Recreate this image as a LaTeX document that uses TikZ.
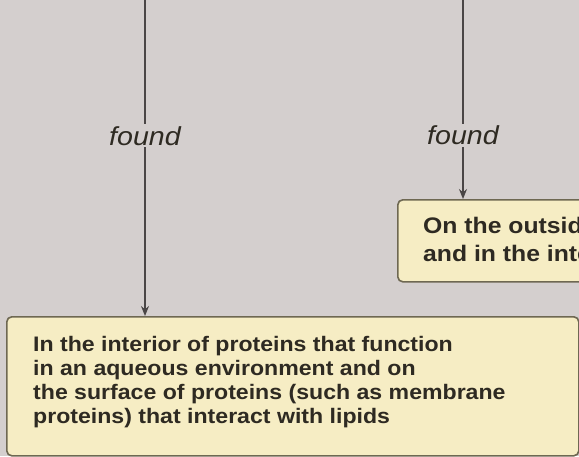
\documentclass[tikz,border=0pt]{standalone}
\usepackage{fontspec}
\setmainfont{Liberation Sans}
\newfontfamily\widesans[FakeStretch=1.1]{Liberation Sans}
\usetikzlibrary{arrows.meta,positioning}
\definecolor{paper}{HTML}{D4CFCE}
\definecolor{boxfill}{HTML}{F6EDC4}
\definecolor{boxline}{HTML}{6E6852}
\definecolor{inkgray}{HTML}{4A4646}
\definecolor{textink}{HTML}{2E2A22}

\begin{document}
\begin{tikzpicture}[
    x=1pt, y=-1pt,
    >={Stealth[length=10pt, width=8pt]},
    place/.style={draw=boxline, fill=boxfill, line width=1.6pt, rounded corners=5pt,
        anchor=north west, inner sep=0pt},
    placetext/.style={anchor=north west, inner sep=0pt, align=left, text=textink,
        font=\widesans\fontsize{21}{24}\selectfont\bfseries},
    link/.style={->, draw=inkgray, line width=1.4pt},
    verb/.style={fill=paper, inner sep=2pt, text=textink,
        font=\widesans\fontsize{26}{28}\selectfont\itshape},
]
    % --- canvas ---
    \fill[paper] (0,0) rectangle (579,456);
    \useasboundingbox (0,0) rectangle (579,456);
    \clip (0,0) rectangle (579,456);

    % --- target boxes ---
    \node[place, minimum width=572pt, minimum height=139pt] (interior) at (6,316) {};
    \node[placetext] (interiortxt) at (33,336)
        {In the interior of proteins that function\\in an aqueous environment and on\\the surface of proteins (such as membrane\\proteins) that interact with lipids};

    \node[place, minimum width=260pt, minimum height=82pt] (outside) at (397,199) {};
    \node[placetext, font=\widesans\fontsize{22.5}{28}\selectfont\bfseries] (outsidetxt) at (423,217)
        {On the outside\\and in the interior};

    % --- incoming links ---
    \coordinate (srcL) at (145,0);
    \coordinate (srcR) at (463,0);
    \draw[link] (srcL) -- node[verb, pos=0.43] (foundL) {found} (srcL |- interior.north);
    \draw[link] (srcR) -- node[verb, pos=0.68] (foundR) {found} (srcR |- outside.north);

\end{tikzpicture}
\end{document}
